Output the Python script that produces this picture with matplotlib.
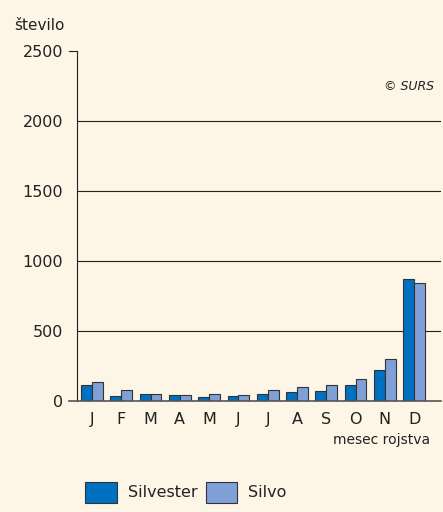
import numpy as np
import matplotlib.pyplot as plt
from matplotlib.patches import Rectangle

# mesec rojstva
months = ["J", "F", "M", "A", "M", "J", "J", "A", "S", "O", "N", "D"]
silvester = [114, 36, 48, 40, 29, 36, 48, 62, 71, 112, 224, 871]
silvo = [136, 76, 52, 45, 52, 45, 81, 102, 114, 160, 302, 843]
yticks = [0, 500, 1000, 1500, 2000, 2500]

c_silvester = "#0070c0"
c_silvo = "#7f9fd6"
edge = "#333333"
bg = "#fdf5e6"

fig = plt.figure(figsize=(4.43, 5.12), dpi=100)
fig.patch.set_facecolor(bg)
ax = fig.add_axes([0.174, 0.217, 0.821, 0.683])
ax.set_facecolor("none")

x = np.arange(len(months))
w = 0.37
ax.bar(x - w / 2, silvester, w, color=c_silvester, edgecolor=edge, linewidth=0.8, zorder=3)
ax.bar(x + w / 2, silvo, w, color=c_silvo, edgecolor=edge, linewidth=0.8, zorder=3)

ax.set_xlim(-0.51, 11.91)
ax.set_ylim(0, 2500)
ax.set_yticks(yticks)
ax.set_yticklabels([str(v) for v in yticks], fontsize=11.5, color="#222222")
ax.set_xticks(x)
ax.set_xticklabels(months, fontsize=11.5, color="#222222")
ax.tick_params(axis="x", length=0, pad=8)
ax.tick_params(axis="y", length=0, pad=10)

for v in yticks[1:-1]:
    ax.axhline(v, color="#222222", linewidth=0.8, zorder=1)
ax.plot([-0.78, 11.91], [0, 0], color="#555555", linewidth=1.2, clip_on=False, zorder=4)
ax.plot([-0.51, -0.78], [2500, 2500], color="#222222", linewidth=0.8, clip_on=False)

for s in ["top", "right", "bottom"]:
    ax.spines[s].set_visible(False)
ax.spines["left"].set_color("#222222")
ax.spines["left"].set_linewidth(0.8)

fig.text(0.032, 0.951, "število", fontsize=11, color="#222222", va="center")
fig.text(0.97, 0.141, "mesec rojstva", fontsize=10, color="#222222", ha="right", va="center")
ax.text(0.98, 0.90, "© SURS", transform=ax.transAxes, fontsize=9, style="italic",
        color="#222222", ha="right", va="center")

# legenda
fig.patches.append(Rectangle((0.192, 0.018), 0.073, 0.041, transform=fig.transFigure,
                             facecolor=c_silvester, edgecolor=edge, linewidth=0.8))
fig.text(0.29, 0.038, "Silvester", fontsize=11.5, color="#222222", va="center")
fig.patches.append(Rectangle((0.464, 0.018), 0.072, 0.041, transform=fig.transFigure,
                             facecolor=c_silvo, edgecolor=edge, linewidth=0.8))
fig.text(0.56, 0.038, "Silvo", fontsize=11.5, color="#222222", va="center")

fig.savefig("out.png", dpi=100, facecolor=bg)
